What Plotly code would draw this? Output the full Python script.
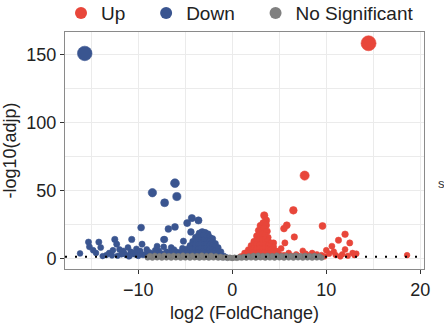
import plotly.graph_objects as go

# ---- data ----
up_x = [14.5, 7.7, 6.5, 5.8, 5.5, 6.6, 5.6, 5.2, 4.4, 9.6, 12.0, 11.3, 12.5, 10.6, 12.0, 13.0, 18.6,
        10.0, 7.5, 6.0, 6.8, 8.0, 8.5, 9.0, 9.5, 10.3, 11.0, 11.7, 12.3, 10.8, 12.8, 4.8, 5.5, 7.0,
        11.5, 9.8, 8.8, 13.2, 7.8, 6.3,
        3.4, 3.6,
        3.0, 3.3, 3.6,
        2.8, 3.1, 3.4, 3.7,
        2.6, 2.9, 3.2, 3.5, 3.8,
        2.3, 2.6, 2.9, 3.2, 3.5, 3.8, 4.1,
        2.0, 2.3, 2.6, 2.9, 3.2, 3.5, 3.8, 4.1, 4.4,
        1.7, 2.0, 2.3, 2.6, 2.9, 3.2, 3.5, 3.8, 4.1, 4.4, 4.7,
        1.3, 1.6, 1.9, 2.2, 2.5, 2.8, 3.1, 3.4, 3.7, 4.0, 4.3, 4.6, 5.0,
        0.9, 1.2, 1.5, 1.8, 2.1, 2.4, 2.7, 3.0, 3.3, 3.6, 3.9, 4.2, 4.5, 4.9, 5.3]
up_y = [158.5, 61.0, 35.4, 24.4, 22.0, 15.8, 11.4, 7.3, 11.4, 23.9, 17.8, 13.4, 11.4, 9.0, 6.6, 2.4, 2.4,
        6.0, 5.6, 4.0, 3.0, 2.5, 4.0, 3.0, 2.5, 3.5, 2.5, 3.0, 2.0, 5.0, 4.0, 5.0, 2.5, 2.0,
        1.5, 1.5, 1.8, 3.5, 3.5, 2.0,
        31.7, 28.0,
        24.0, 26.0, 24.5,
        20.5, 21.5, 22.0, 20.0,
        16.5, 17.5, 18.0, 17.0, 15.5,
        12.5, 13.5, 14.0, 13.5, 14.0, 13.0, 11.5,
        9.5, 10.0, 10.5, 10.0, 10.5, 10.0, 9.5, 9.0, 8.5,
        6.5, 7.0, 7.5, 7.0, 7.5, 7.0, 7.5, 7.0, 6.5, 6.0, 5.5,
        4.0, 4.5, 4.0, 4.5, 4.0, 4.5, 4.0, 4.5, 4.0, 4.5, 4.0, 3.5, 3.0,
        1.5, 2.0, 1.5, 2.0, 1.5, 2.0, 1.5, 2.0, 1.5, 2.0, 1.5, 2.0, 1.5, 2.0, 1.5]

down_x = [-15.7, -8.5, -7.2, -6.1, -5.9, -9.7, -6.8, -6.1, -4.8, -4.3, -3.6, -4.4, -5.2, -7.3, -7.3,
          -6.5, -5.9,
          -16.2, -15.3, -15.2, -14.5, -14.2, -14.0, -13.8, -13.1, -12.7, -12.5, -12.3, -12.0, -11.5,
          -10.7, -11.1, -10.8, -10.4, -9.6, -9.1, -8.0, -8.4, -7.2, -7.8, -6.9, -6.3, -10.0, -11.0,
          -9.5, -8.8, -10.2, -11.6, -12.8, -9.0, -5.5, -5.0, -4.7, -5.3, -8.2, -7.5, -6.6, -9.9,
          -11.3, -10.5, -10.1, -9.3, -8.6, -7.9, -7.0, -6.7, -6.0, -5.7, -11.8, -12.2, -10.9,
          -9.8, -8.9, -8.1, -7.6, -6.2, -5.4, -13.4, -14.8,
          -3.5, -3.2, -2.9, -2.6,
          -3.9, -3.6, -3.3, -3.0, -2.7, -2.4, -2.1,
          -4.2, -3.9, -3.6, -3.3, -3.0, -2.7, -2.4, -2.1, -1.8,
          -4.5, -4.2, -3.9, -3.6, -3.3, -3.0, -2.7, -2.4, -2.1, -1.8, -1.5,
          -4.8, -4.5, -4.2, -3.9, -3.6, -3.3, -3.0, -2.7, -2.4, -2.1, -1.8, -1.5, -1.2,
          -5.1, -4.8, -4.5, -4.2, -3.9, -3.6, -3.3, -3.0, -2.7, -2.4, -2.1, -1.8, -1.5, -1.2, -0.9,
          -5.1, -4.8, -4.5, -4.2, -3.9, -3.6, -3.3, -3.0, -2.7, -2.4, -2.1, -1.8, -1.5, -1.2, -0.9, -0.6]
down_y = [151.0, 48.4, 41.0, 55.4, 45.6, 22.7, 21.7, 23.2, 26.0, 29.7, 28.0, 19.5, 12.7, 13.9, 8.5,
          8.0, 4.8,
          3.7, 12.0, 8.5, 4.0, 12.0, 8.0, 1.7, 4.0, 6.0, 14.0, 10.5, 6.6, 3.7,
          14.0, 8.0, 5.0, 3.0, 10.5, 6.6, 9.0, 3.5, 14.0, 5.5, 3.0, 2.5, 1.8, 1.5,
          2.5, 4.5, 7.0, 5.5, 2.2, 1.2, 3.0, 2.0, 6.0, 7.5, 6.0, 3.5, 4.5, 4.0,
          2.5, 4.0, 5.5, 3.0, 2.0, 2.5, 5.0, 2.0, 3.5, 2.0, 3.0, 2.0, 2.0,
          5.5, 2.5, 4.0, 2.0, 6.5, 5.0, 2.5, 6.0,
          18.5, 19.5, 19.0, 18.0,
          15.5, 16.5, 16.0, 17.0, 16.0, 15.5, 14.5,
          12.5, 13.0, 13.5, 13.0, 13.5, 13.0, 12.5, 12.0, 11.0,
          9.5, 10.0, 10.5, 10.0, 10.5, 10.0, 10.5, 10.0, 9.5, 9.0, 8.0,
          7.0, 7.5, 7.0, 7.5, 7.0, 7.5, 7.0, 7.5, 7.0, 6.5, 6.0, 5.5, 5.0,
          4.0, 4.5, 4.0, 4.5, 4.0, 4.5, 4.0, 4.5, 4.0, 4.5, 4.0, 3.5, 3.0, 2.5, 2.0,
          1.5, 2.0, 1.5, 2.0, 1.5, 2.0, 1.5, 2.0, 1.5, 2.0, 1.5, 2.0, 1.5, 1.0, 1.0, 0.8]

ns_x = [-9.0, -8.5, -8.0, -7.5, -7.0, -6.5, -6.0, -5.5, -5.0, -4.5, -4.0, -3.5, -3.0, -2.5, -2.0,
        -1.5, -1.0, -0.5, 0.0, 0.5, 1.0, 1.5, 2.0, 2.5, 3.0, 3.5, 4.0, 4.5, 5.0, 5.5, 6.0, 6.5,
        7.0, 7.5, 8.0, 8.5, 9.0, 9.5,
        -8.75, -8.25, -7.75, -7.25, -6.75, -6.25, -5.75, -5.25, -4.75, -4.25, -3.75, -3.25, -2.75,
        -2.25, -1.75, -1.25, -0.75, -0.25, 0.25, 0.75, 1.25, 1.75, 2.25, 2.75, 3.25, 3.75, 4.25,
        4.75, 5.25, 5.75, 6.25, 6.75, 7.25, 7.75, 8.25, 8.75, 9.25]
ns_y = [0.6, 0.5, 0.7, 0.5, 0.6, 0.5, 0.7, 0.5, 0.6, 0.5, 0.7, 0.5, 0.6, 0.5, 0.6,
        0.5, 0.4, 0.3, 0.2, 0.3, 0.4, 0.5, 0.6, 0.5, 0.7, 0.5, 0.6, 0.5, 0.7, 0.5, 0.6, 0.5,
        0.7, 0.5, 0.6, 0.5, 0.6, 0.5,
        1.8, 2.0, 1.7, 2.1, 1.8, 2.0, 1.7, 2.1, 1.8, 2.0, 1.7, 2.1, 1.8,
        2.0, 1.6, 1.2, 0.9, 0.6, 0.6, 0.9, 1.2, 1.6, 1.9, 2.1, 1.8, 2.0, 1.7,
        2.1, 1.8, 2.0, 1.7, 2.1, 1.8, 2.0, 1.7, 1.9, 1.6]

threshold = 1.3
legend_names = ["Up", "Down", "No Significant"]
legend_labels = ["Up\u00a0\u00a0\u00a0", "Down\u00a0\u00a0\u00a0", "No Significant"]
colors = {"Up": "#E8463A", "Down": "#3A5590", "No Significant": "#808080"}

def sizes(ys):
    return [5.5 + y * 0.06 for y in ys]

fig = go.Figure()
for name, xs, ys in [("Up", up_x, up_y), ("Down", down_x, down_y)]:
    fig.add_trace(go.Scatter(x=xs, y=ys, mode="markers", showlegend=False, name=name,
                             marker=dict(color=colors[name], size=sizes(ys), opacity=1,
                                         line=dict(width=0.6, color=colors[name]))))
fig.add_trace(go.Scatter(x=ns_x, y=ns_y, mode="markers", showlegend=False, name="No Significant",
                         marker=dict(color=colors["No Significant"], size=5.5, opacity=1,
                                     line=dict(width=0.5, color="#777777"))))

# threshold dotted line
fig.add_hline(y=threshold, line=dict(color="black", width=2, dash="2px,8px"))

# legend entries
for name, label in zip(legend_names, legend_labels):
    fig.add_trace(go.Scatter(x=[None], y=[None], mode="markers", name=label,
                             marker=dict(color=colors[name], size=11, opacity=1)))

axis_common = dict(showline=True, linecolor="#8a8a8a", linewidth=1, mirror=True,
                   ticks="outside", ticklen=4, tickcolor="#333333",
                   gridcolor="#ebebeb", gridwidth=1, zeroline=False,
                   tickfont=dict(size=18, color="#222222"))

fig.update_layout(
    width=444, height=326,
    margin=dict(l=65, r=20, t=32, b=57, autoexpand=False),
    plot_bgcolor="white", paper_bgcolor="white",
    font=dict(family="Liberation Sans, Arial, sans-serif", color="#222222"),
    legend=dict(orientation="h", x=(61 - 65) / 359, xanchor="left", y=1.08, yanchor="middle",
                font=dict(size=19), itemsizing="constant", bgcolor="rgba(0,0,0,0)"),
    xaxis=dict(range=[-17.8, 20.4], tickvals=[-10, 0, 10, 20],
               minor=dict(dtick=5, tick0=0, showgrid=True, gridcolor="#ebebeb", ticks=""),
               title=dict(text="log2 (FoldChange)", font=dict(size=18), standoff=7),
               **axis_common),
    yaxis=dict(range=[-7.8, 166.8], tickvals=[0, 50, 100, 150],
               minor=dict(dtick=25, tick0=0, showgrid=True, gridcolor="#ebebeb", ticks=""),
               title=dict(text="-log10(adjp)", font=dict(size=18), standoff=5),
               **axis_common),
)

fig.add_annotation(text="s", xref="paper", yref="paper", x=(441 - 65) / 359, y=(269 - 183) / 237,
                   showarrow=False, font=dict(size=13, color="#333333"), xanchor="center")

fig.write_html("out.html")
